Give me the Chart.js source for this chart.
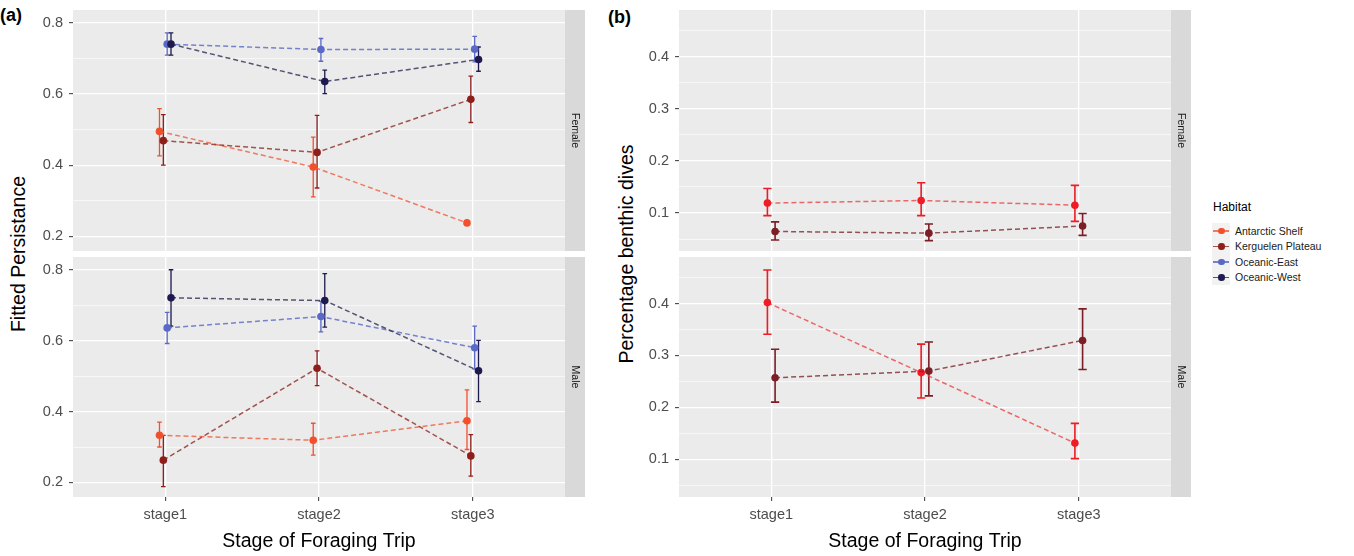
<!DOCTYPE html>
<html>
<head>
<meta charset="utf-8">
<script src="https://cdn.jsdelivr.net/npm/chart.js@4.4.1/dist/chart.umd.min.js"></script>
<style>
    html, body { margin: 0; padding: 0; background: #fff; }
    #page { position: relative; width: 1354px; height: 556px; overflow: hidden; font-family: 'Liberation Sans', Arial, sans-serif; }
    canvas { position: absolute; }
    .tag { position: absolute; font-weight: bold; font-size: 18px; color: #000; }
    .ytitle { position: absolute; font-size: 19.5px; color: #000; white-space: nowrap; transform: translate(-50%, -50%) rotate(-90deg); }
    #legend { position: absolute; left: 1212px; top: 197px; }
    .ltitle { font-size: 12px; height: 20px; line-height: 20px; margin-left: 1px; margin-bottom: 6px; color: #000; }
    .lrow { display: flex; align-items: center; height: 15.5px; }
    .lkey { position: relative; width: 18px; height: 15.5px; background: #F2F2F2; }
    .lkey .ln { position: absolute; left: 1px; right: 1px; top: 7px; height: 1.5px; }
    .lkey .pt { position: absolute; left: 6px; top: 4.5px; width: 6.5px; height: 6.5px; border-radius: 50%; }
    .ltext { margin-left: 5px; font-size: 10.5px; color: #1A1A1A; }
</style>
</head>
<body>
<div id="page">
    <div class="tag" style="left:0px;top:5px">(a)</div>
    <div class="tag" style="left:608px;top:7px">(b)</div>
    <div class="ytitle" style="left:18px;top:254px">Fitted Persistance</div>
    <div class="ytitle" style="left:626px;top:254px">Percentage benthic dives</div>
    <canvas id="aFemale"></canvas>
    <canvas id="aMale"></canvas>
    <canvas id="bFemale"></canvas>
    <canvas id="bMale"></canvas>
    <div id="legend"></div>
</div>
<script>
const STAGES = ['stage1', 'stage2', 'stage3']
const HABITATS = ['Antarctic Shelf', 'Kerguelen Plateau', 'Oceanic-East', 'Oceanic-West']
const BENTHIC_HABITATS = ['Antarctic Shelf', 'Kerguelen Plateau']

// (a) fitted persistence, one row per habitat (same order as HABITATS)
const persFemale   = [[0.495, 0.395, 0.238], [0.469, 0.436, 0.585], [0.740, 0.725, 0.726], [0.740, 0.635, 0.697]]
const persFemaleLo = [[0.426, 0.311, 0.236], [0.400, 0.336, 0.520], [0.709, 0.692, 0.690], [0.709, 0.601, 0.664]]
const persFemaleHi = [[0.559, 0.479, 0.240], [0.542, 0.540, 0.650], [0.772, 0.756, 0.762], [0.772, 0.667, 0.732]]
const persMale     = [[0.333, 0.319, 0.374], [0.263, 0.522, 0.275], [0.636, 0.668, 0.580], [0.721, 0.713, 0.515]]
const persMaleLo   = [[0.300, 0.277, 0.293], [0.188, 0.473, 0.218], [0.592, 0.625, 0.520], [0.641, 0.638, 0.428]]
const persMaleHi   = [[0.370, 0.367, 0.461], [0.333, 0.571, 0.335], [0.680, 0.711, 0.641], [0.800, 0.789, 0.601]]

// (b) proportion of benthic dives, rows follow BENTHIC_HABITATS
const benthFemale   = [[0.119, 0.124, 0.115], [0.0645, 0.0613, 0.075]]
const benthFemaleLo = [[0.095, 0.095, 0.084], [0.048, 0.047, 0.057]]
const benthFemaleHi = [[0.147, 0.158, 0.153], [0.083, 0.079, 0.099]]
const benthMale     = [[0.402, 0.267, 0.131], [0.257, 0.270, 0.329]]
const benthMaleLo   = [[0.341, 0.218, 0.101], [0.210, 0.222, 0.273]]
const benthMaleHi   = [[0.465, 0.322, 0.169], [0.312, 0.326, 0.390]]

const persTicks = [0.2, 0.4, 0.6, 0.8]
const persMinor = [0.3, 0.5, 0.7]
const benthTicks = [0.1, 0.2, 0.3, 0.4]
const benthMinor = [0.05, 0.15, 0.25, 0.35, 0.45]

const FONT = "'Liberation Sans', Arial, sans-serif"
const Y_AXIS_W = 70
const PLOT_W = 492
const STRIP_W = 20
const X_AXIS_H = 59
const DODGE = 0.1

const COLORS_A = ['#F2502C', '#8E1E1A', '#5A69C6', '#1D1A4E']
const LINES_A = ['rgba(240,100,70,0.85)', 'rgba(140,45,38,0.8)', 'rgba(95,110,200,0.85)', 'rgba(45,45,85,0.8)']
const COLORS_B = ['#EE1C24', '#7C1E26']
const LINES_B = ['rgba(235,70,70,0.8)', 'rgba(125,40,48,0.8)']

Chart.defaults.font.family = FONT

const facetFrame = {
    id: 'facetFrame',
    beforeDraw(chart, args, opts) {
        const { ctx, chartArea: a } = chart
        ctx.save()
        ctx.fillStyle = '#EBEBEB'
        ctx.fillRect(a.left, a.top, a.width, a.height)
        ctx.fillStyle = '#D9D9D9'
        ctx.fillRect(a.right, a.top, STRIP_W, a.height)
        ctx.translate(a.right + STRIP_W / 2, (a.top + a.bottom) / 2)
        ctx.rotate(Math.PI / 2)
        ctx.fillStyle = '#1A1A1A'
        ctx.font = '10.5px ' + FONT
        ctx.textAlign = 'center'
        ctx.textBaseline = 'middle'
        ctx.fillText(opts.label, 0, 0)
        ctx.restore()
    }
}

const errorBars = {
    id: 'errorBars',
    beforeDatasetsDraw(chart, args, opts) {
        const { ctx, scales: { x, y } } = chart
        ctx.save()
        ctx.lineWidth = opts.width
        chart.data.datasets.forEach(ds => {
            ctx.strokeStyle = ds.pointBackgroundColor
            ds.data.forEach((p, i) => {
                const px = x.getPixelForValue(p.x)
                const c = x.getPixelForValue(p.x + opts.cap) - px
                const top = y.getPixelForValue(ds.hi[i])
                const bot = y.getPixelForValue(ds.lo[i])
                ctx.beginPath()
                ctx.moveTo(px, top)
                ctx.lineTo(px, bot)
                ctx.moveTo(px - c, top)
                ctx.lineTo(px + c, top)
                ctx.moveTo(px - c, bot)
                ctx.lineTo(px + c, bot)
                ctx.stroke()
            })
        })
        ctx.restore()
    }
}

function dodge(k, n) {
    return (k - (n - 1) / 2) * DODGE / n
}

function yScale(range, majors, minors) {
    return {
        type: 'linear', min: range[0], max: range[1], bounds: 'data',
        afterBuildTicks: ax => {
            ax.ticks = majors.map(v => ({ value: v }))
                .concat(minors.map(v => ({ value: v, minor: true })))
                .sort((a, b) => a.value - b.value)
        },
        afterFit: ax => { ax.width = Y_AXIS_W; ax.paddingTop = 0; ax.paddingBottom = 0 },
        ticks: {
            autoSkip: false, padding: 6, color: '#4D4D4D', font: { size: 14.5 },
            callback: (v, i, ticks) => ticks[i].minor ? '' : v.toFixed(1)
        },
        grid: {
            color: '#FFFFFF',
            lineWidth: c => c.tick && c.tick.minor ? 0.6 : 1.3,
            tickLength: 4, tickWidth: 1,
            tickColor: c => c.tick && c.tick.minor ? 'rgba(0,0,0,0)' : '#333333'
        },
        border: { display: false }
    }
}

function xScale(bottom) {
    return {
        type: 'linear', min: -0.6, max: STAGES.length - 0.4, bounds: 'data',
        afterBuildTicks: ax => { ax.ticks = STAGES.map((s, i) => ({ value: i })) },
        afterFit: ax => { ax.height = bottom ? X_AXIS_H : 0; ax.paddingLeft = 0; ax.paddingRight = 0 },
        ticks: {
            display: bottom, autoSkip: false, padding: 5, color: '#4D4D4D', font: { size: 14.5 },
            callback: v => STAGES[v]
        },
        grid: { color: '#FFFFFF', lineWidth: 1.3, drawTicks: bottom, tickLength: 4, tickWidth: 1, tickColor: '#333333' },
        border: { display: false },
        title: {
            display: bottom, text: 'Stage of Foraging Trip', color: '#000',
            font: { size: 19.5, lineHeight: 1.2 }, padding: { top: 0, bottom: 3 }
        }
    }
}

function facetChart(cfg) {
    const canvas = document.getElementById(cfg.id)
    const width = Y_AXIS_W + PLOT_W + STRIP_W
    const height = cfg.height + (cfg.bottom ? X_AXIS_H : 0)
    canvas.width = width
    canvas.height = height
    canvas.style.width = width + 'px'
    canvas.style.height = height + 'px'
    canvas.style.left = (cfg.plotLeft - Y_AXIS_W) + 'px'
    canvas.style.top = cfg.top + 'px'

    const n = cfg.names.length
    const datasets = cfg.names.map((name, k) => ({
        label: name,
        data: cfg.values[k].map((v, i) => ({ x: i + dodge(k, n), y: v })),
        lo: cfg.lo[k],
        hi: cfg.hi[k],
        borderColor: cfg.lines[k],
        borderDash: [5, 3],
        borderWidth: 1.5,
        pointRadius: 3.8,
        pointBackgroundColor: cfg.colors[k],
        pointBorderWidth: 0,
        fill: false,
        tension: 0,
        clip: false,
        order: n - k
    }))

    return new Chart(canvas, {
        type: 'line',
        data: { datasets },
        options: {
            responsive: false,
            animation: false,
            devicePixelRatio: 1,
            layout: { autoPadding: false, padding: { left: 0, right: STRIP_W, top: 0, bottom: 0 } },
            plugins: {
                legend: { display: false },
                tooltip: { enabled: false },
                facetFrame: { label: cfg.strip },
                errorBars: { cap: cfg.cap, width: cfg.barWidth }
            },
            scales: {
                x: xScale(cfg.bottom),
                y: yScale(cfg.range, cfg.majors, cfg.minors)
            }
        },
        plugins: [facetFrame, errorBars]
    })
}

const persRange = [0.159, 0.836]
const benthRange = [0.027, 0.490]

facetChart({ id: 'aFemale', plotLeft: 73, top: 10, height: 241, bottom: false, strip: 'Female',
    names: HABITATS, values: persFemale, lo: persFemaleLo, hi: persFemaleHi, colors: COLORS_A, lines: LINES_A,
    range: persRange, majors: persTicks, minors: persMinor, cap: 0.015, barWidth: 1.3 })
facetChart({ id: 'aMale', plotLeft: 73, top: 257, height: 240, bottom: true, strip: 'Male',
    names: HABITATS, values: persMale, lo: persMaleLo, hi: persMaleHi, colors: COLORS_A, lines: LINES_A,
    range: persRange, majors: persTicks, minors: persMinor, cap: 0.015, barWidth: 1.3 })
facetChart({ id: 'bFemale', plotLeft: 679, top: 10, height: 241, bottom: false, strip: 'Female',
    names: BENTHIC_HABITATS, values: benthFemale, lo: benthFemaleLo, hi: benthFemaleHi, colors: COLORS_B, lines: LINES_B,
    range: benthRange, majors: benthTicks, minors: benthMinor, cap: 0.027, barWidth: 1.6 })
facetChart({ id: 'bMale', plotLeft: 679, top: 257, height: 240, bottom: true, strip: 'Male',
    names: BENTHIC_HABITATS, values: benthMale, lo: benthMaleLo, hi: benthMaleHi, colors: COLORS_B, lines: LINES_B,
    range: benthRange, majors: benthTicks, minors: benthMinor, cap: 0.027, barWidth: 1.6 })

// legend (habitat colours as in panel a)
const legend = document.getElementById('legend')
legend.innerHTML = '<div class="ltitle">Habitat</div>' + HABITATS.map((name, k) => `
    <div class="lrow">
        <div class="lkey">
            <div class="ln" style="background:${LINES_A[k]}"></div>
            <div class="pt" style="background:${COLORS_A[k]}"></div>
        </div>
        <div class="ltext">${name}</div>
    </div>`).join('')
</script>
</body>
</html>
